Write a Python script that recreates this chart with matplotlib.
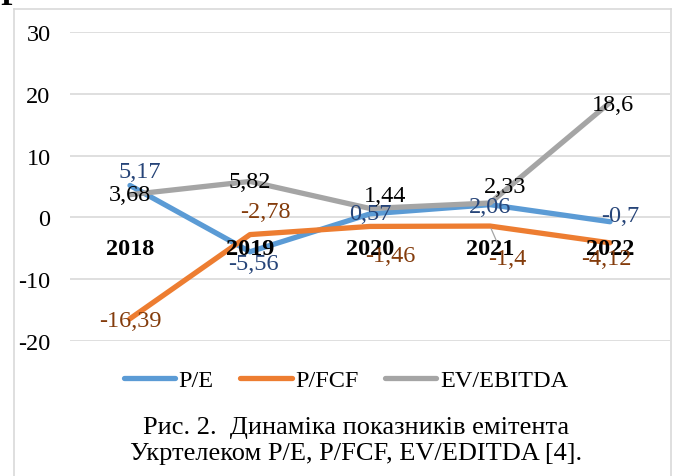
import matplotlib
matplotlib.use('Agg')
import matplotlib.pyplot as plt
from matplotlib.lines import Line2D

plt.rcParams['font.family'] = ['Liberation Serif', 'DejaVu Serif']
plt.rcParams['axes.unicode_minus'] = False

# data
years = ['2018', '2019', '2020', '2021', '2022']
pe = [5.17, -5.56, 0.57, 2.06, -0.7]
pfcf = [-16.39, -2.78, -1.46, -1.4, -4.12]
ev_ebitda = [3.68, 5.82, 1.44, 2.33, 18.6]
yticks = [-20, -10, 0, 10, 20, 30]

# label offsets in pixels (dx right, dy up) - hand placed like in the source chart
pe_off = [(10, 14), (3, -12), (0, 0), (0, -2), (10, 6)]
pfcf_off = [(0, -2), (15, 23), (20, -29), (17, -32), (-4, -16)]
ev_off = [(0, 0), (0, 0), (15, 13), (15, 17), (3, -2)]

FS = 17.5
W, H = 673, 477
fig = plt.figure(figsize=(W / 100, H / 100), dpi=100)
ax = fig.add_axes([70 / W, 1 - 342 / H, 600 / W, 309 / H])

x = list(range(len(years)))
series = [
    ('P/E', pe, '#5B9BD5', '#264478', pe_off),
    ('P/FCF', pfcf, '#ED7D31', '#843C0C', pfcf_off),
    ('EV/EBITDA', ev_ebitda, '#A5A5A5', 'black', ev_off),
]

for name, vals, col, lcol, offs in series:
    ax.plot(x, vals, color=col, lw=3.8, solid_capstyle='round',
            solid_joinstyle='round', label=name, zorder=2)

for name, vals, col, lcol, offs in series:
    for i, v in enumerate(vals):
        dx, dy = offs[i]
        txt = ('%g' % v).replace('.', ',')
        kw = {}
        if name == 'P/FCF' and i == 3:
            kw['arrowprops'] = dict(arrowstyle='-', color='#A5A5A5', lw=0.9,
                                    shrinkA=1, shrinkB=2, relpos=(0.3, 1))
        ax.annotate(txt, (i, v), xytext=(dx * 0.72, dy * 0.72),
                    textcoords='offset points', ha='center', va='center',
                    fontsize=FS, color=lcol, zorder=6, **kw)

# category labels sit just under the zero line
ax.spines['bottom'].set_position(('data', 0))
for s in ax.spines.values():
    s.set_visible(False)

ax.set_xlim(-0.5, 4.5)
ax.set_ylim(-20, 30)
ax.set_yticks(yticks)
ax.set_xticks(x)
ax.set_xticklabels(years, fontsize=FS, fontweight='bold')
ax.tick_params(axis='y', labelsize=FS, length=0, pad=14)
ax.tick_params(axis='x', length=0, pad=15)
ax.yaxis.grid(True, color='#D9D9D9', lw=1.2)
ax.yaxis.set_zorder(0.5)
ax.xaxis.set_zorder(5)

fig.legend(loc='center', bbox_to_anchor=(346 / W, 1 - 381 / H), ncol=3,
           frameon=False, fontsize=FS, handlelength=2.1, handletextpad=0.15,
           columnspacing=1.1)

fig.text(356 / W, 1 - 428 / H, 'Рис. 2.  Динаміка показників емітента',
         ha='center', va='center', fontsize=19)
fig.text(356 / W, 1 - 454 / H, 'Укртелеком P/E, P/FCF, EV/EDITDA [4].',
         ha='center', va='center', fontsize=19)

# chart frame (partly outside the picture)
bc = '#D9D9D9'
fig.add_artist(Line2D([13.5 / W, 13.5 / W], [0, 1 - 10 / H], color=bc, lw=1.2))
fig.add_artist(Line2D([13.5 / W, 671 / W], [1 - 10 / H, 1 - 10 / H], color=bc, lw=1.2))
fig.add_artist(Line2D([671 / W, 671 / W], [0, 1 - 10 / H], color=bc, lw=1.2))

# cut-off letter of the page text above the chart
fig.text(0.0, 1 - 5 / H, 'Р', fontsize=22, fontweight='bold', va='baseline')

fig.savefig('out.png', dpi=100)
